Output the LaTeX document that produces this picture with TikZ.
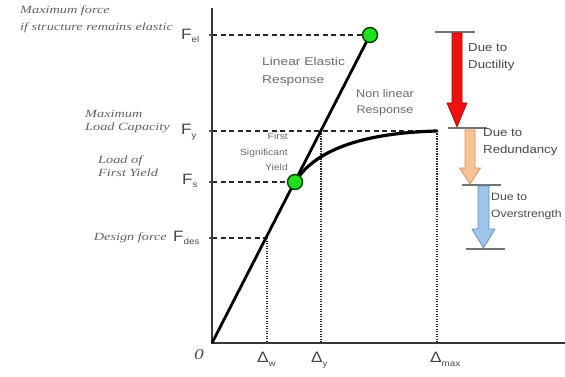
\documentclass[tikz,border=0pt]{standalone}
\usepackage{fontspec}
\setmainfont{Liberation Sans}
\newfontfamily\scr[FakeStretch=1.3]{Liberation Serif}
\newfontfamily\sns[FakeStretch=1.15]{Liberation Sans}
\newfontfamily\snw[FakeStretch=1.22]{Liberation Sans}
\newcommand\subx[1]{\raisebox{-0.45ex}{\fontsize{8.5}{8.5}\selectfont #1}}
\definecolor{gdotc}{HTML}{1EE01E}
\definecolor{redarr}{HTML}{EE1111}
\definecolor{orarr}{HTML}{F9C295}
\definecolor{orline}{HTML}{D9915A}
\definecolor{bluarr}{HTML}{9FC5EA}
\definecolor{blline}{HTML}{5B8FC8}
\tikzset{
  axisline/.style={line width=2.6pt, draw=black!78},
  resp/.style={line width=2.8pt, draw=black},
  dsh/.style={line width=2pt, draw=black!85, dash pattern=on 5pt off 3.5pt},
  dtt/.style={line width=2pt, draw=black!85, dash pattern=on 1.2pt off 1.3pt},
  gdot/.style={circle, fill=gdotc, draw=black!60!green!60!black, line width=1.4pt, minimum size=15pt, inner sep=0pt},
  lbl/.style={font=\scr\itshape\fontsize{11}{13}\selectfont, text=black!62, align=left, inner sep=0pt},
  flab/.style={font=\sns\fontsize{15}{15}\selectfont, text=black!72, inner sep=0pt, anchor=west},
  dlab/.style={font=\sns\fontsize{15}{15}\selectfont, text=black!72, inner sep=0pt, anchor=north west},
  plab/.style={font=\sns\fontsize{11}{17}\selectfont, text=black!58, inner sep=0pt},
  rlab/.style={font=\sns\fontsize{11.5}{17}\selectfont, text=black!72, inner sep=0pt, anchor=north west, align=left},
  tick/.style={line width=1.2pt, draw=black!55},
}
\begin{document}
\begin{tikzpicture}[x=1pt,y=-1pt]
\useasboundingbox (0,0) rectangle (565,377);
% key points
\coordinate (O) at (212,343);
\coordinate (Ytop) at (212,8);
\coordinate (Xend) at (565,343);
\coordinate (Pel) at (370,35);
\coordinate (Ps) at (295,182);
\coordinate (Pmax) at (437,131);
\coordinate (yel) at (212,35);
\coordinate (yy) at (212,131);
\coordinate (ys) at (212,182);
\coordinate (yd) at (212,238);
\coordinate (Pd) at (267,238);
\coordinate (Py) at (321,131);
\coordinate (xw) at (267,343);
\coordinate (xy) at (321,343);
\coordinate (xm) at (437,343);
% dashed and dotted guides
\draw[dsh] (yel) -- (Pel);
\draw[dsh] (yy) -- (Pmax);
\draw[dsh] (ys) -- (Ps);
\draw[dsh] (yd) -- (Pd);
\draw[dtt] (Pd) -- (xw);
\draw[dtt] (Py) -- (xy);
\draw[dtt] (Pmax) -- (xm);
% axes
\draw[axisline] (Ytop) -- (O) -- (Xend);
\foreach \c in {yel,yy,ys,yd} \draw[line width=1.2pt, black!70] (\c) -- ++(-3,0);
% response
\draw[resp] (O) -- (Pel);
\draw[line width=3.2pt, line cap=round] (Ps) .. controls (315,150) and (362,133) .. (Pmax);
\node[gdot] (dotel) at (Pel) {};
\node[gdot] (dots) at (Ps) {};
% axis labels
\node[flab] (Fel) at (181,36) {F\subx{el}};
\node[flab] (Fy) at (181,132) {F\subx{y}};
\node[flab] (Fs) at (182,181) {F\subx{s}};
\node[flab] (Fdes) at (173,238) {F\subx{des}};
\node[font=\scr\itshape\fontsize{15}{15}\selectfont, text=black!70, inner sep=0pt] (zero) at (199,355) {0};
\node[dlab] (dw) at (257,352) {Δ\subx{w}};
\node[dlab] (dy) at (311,352) {Δ\subx{y}};
\node[dlab] (dm) at (430,352) {Δ\subx{max}};
% left descriptions
\node[lbl, anchor=north west, font=\scr\itshape\fontsize{11}{17}\selectfont] (t1) at (20,6) {Maximum force\\if structure remains elastic};
\node[lbl, anchor=north west] (t2) at (85,110) {Maximum\\Load Capacity};
\node[lbl, anchor=north west] (t3) at (98,156) {Load of\\First Yield};
\node[lbl, anchor=east] (t4) at (167,238) {Design force};
% plot labels
\node[plab, anchor=north west, align=left, font=\snw\fontsize{11.3}{18}\selectfont] (le) at (262,57) {Linear Elastic\\Response};
\node[plab, anchor=north, align=center, font=\sns\fontsize{11}{16}\selectfont] (nl) at (385,89) {Non linear\\Response};
\node[plab, anchor=north east, align=right, font=\sns\fontsize{9}{15.5}\selectfont] (fsy) at (288,133) {First\\Significant\\Yield};
% right arrows
\draw[tick] (435,32) -- (475,32);
\draw[tick] (448,128) -- (487,128);
\draw[tick] (462,185) -- (501,185);
\draw[tick] (466,249) -- (505,249);
\fill[redarr, draw=red!70!black, line width=0.6pt] (452,33) -- (462,33) -- (462,103) -- (467,103) -- (457,127) -- (447,103) -- (452,103) -- cycle;
\fill[orarr, draw=orline, line width=0.8pt] (465,130) -- (475,130) -- (475,168) -- (480.5,168) -- (470,184) -- (459.5,168) -- (465,168) -- cycle;
\fill[bluarr, draw=blline, line width=0.8pt] (478,186) -- (489,186) -- (489,229) -- (495,229) -- (483.5,248) -- (472,229) -- (478,229) -- cycle;
\node[rlab] (r1) at (468,43) {Due to\\Ductility};
\node[rlab] (r2) at (483,128) {Due to\\Redundancy};
\node[rlab, font=\sns\fontsize{10.6}{17}\selectfont] (r3) at (491,193) {Due to\\Overstrength};
\end{tikzpicture}
\end{document}
